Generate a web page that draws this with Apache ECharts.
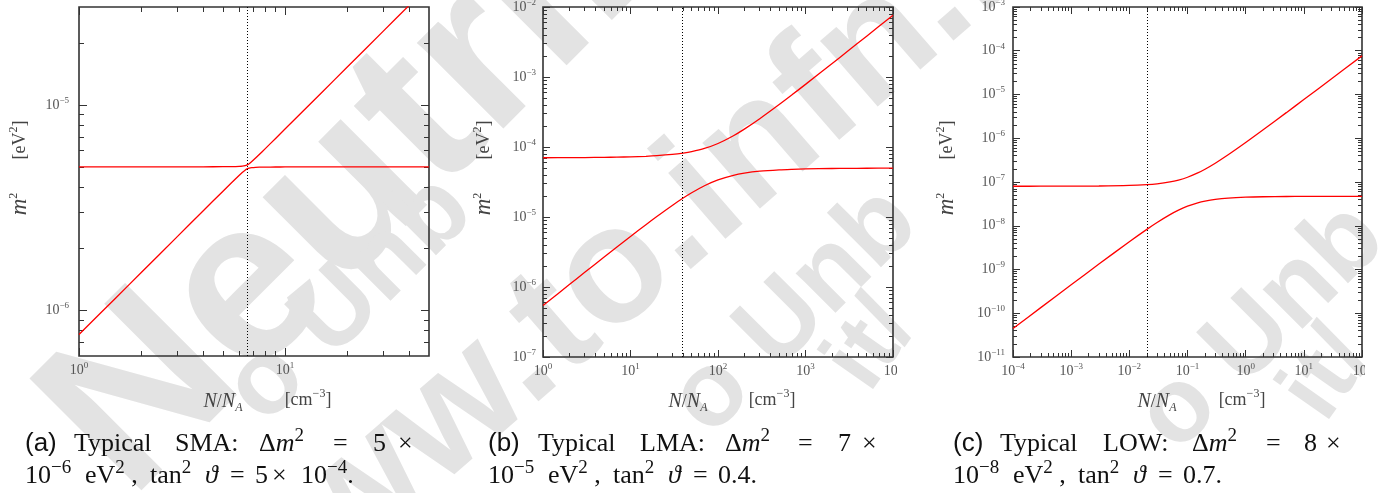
<!DOCTYPE html>
<html>
<head>
<meta charset="utf-8">
<script src="https://cdn.jsdelivr.net/npm/echarts@6.0.0/dist/echarts.min.js"></script>
<style>
  html, body { margin: 0; padding: 0; background: #fff; }
  #chart { width: 1387px; height: 493px; }
</style>
</head>
<body>
<div id="chart"></div>
<script>
// ---------- (a) Typical SMA: Δm² = 5e-6 eV², tan²ϑ = 5e-4 ----------
const smaDensity = [1, 1.5, 2, 3, 4, 5, 5.5, 6, 6.2, 6.4, 6.55, 6.7, 6.9, 7.2, 7.5, 8, 9, 10, 15, 20, 30, 40, 50];
const smaLower = [7.63e-7, 1.144e-6, 1.525e-6, 2.287e-6, 3.048e-6, 3.807e-6, 4.184e-6, 4.552e-6, 4.692e-6, 4.817e-6, 4.887e-6, 4.930e-6, 4.957e-6, 4.974e-6, 4.981e-6, 4.986e-6, 4.991e-6, 4.993e-6, 4.996e-6, 4.996e-6, 4.997e-6, 4.997e-6, 4.997e-6];
const smaUpper = [5.000e-6, 5.001e-6, 5.001e-6, 5.002e-6, 5.004e-6, 5.008e-6, 5.013e-6, 5.026e-6, 5.038e-6, 5.067e-6, 5.111e-6, 5.182e-6, 5.307e-6, 5.520e-6, 5.742e-6, 6.118e-6, 6.876e-6, 7.637e-6, 1.145e-5, 1.526e-5, 2.289e-5, 3.052e-5, 3.815e-5];
const smaResonance = 6.55;
const smaXRange = [1, 50];
const smaYRange = [6e-7, 3e-5];
const smaXLabels = [1, 10];
const smaYLabels = [1e-6, 1e-5];

// ---------- (b) Typical LMA: Δm² = 7e-5 eV², tan²ϑ = 0.4 ----------
const lmaDensity = [1, 2, 3, 5, 7, 10, 15, 20, 30, 40, 50, 70, 100, 150, 200, 300, 500, 700, 1000, 2000, 3000, 5000, 10000];
const lmaLower = [5.43e-7, 1.083e-6, 1.620e-6, 2.682e-6, 3.729e-6, 5.272e-6, 7.767e-6, 1.016e-5, 1.462e-5, 1.864e-5, 2.219e-5, 2.799e-5, 3.396e-5, 3.947e-5, 4.232e-5, 4.509e-5, 4.718e-5, 4.802e-5, 4.864e-5, 4.933e-5, 4.956e-5, 4.974e-5, 4.987e-5];
const lmaUpper = [7.022e-5, 7.044e-5, 7.067e-5, 7.113e-5, 7.161e-5, 7.236e-5, 7.368e-5, 7.510e-5, 7.827e-5, 8.188e-5, 8.596e-5, 9.542e-5, 1.123e-4, 1.450e-4, 1.803e-4, 2.538e-4, 4.043e-4, 5.561e-4, 7.844e-4, 1.547e-3, 2.309e-3, 3.835e-3, 7.650e-3];
const lmaResonance = 39.3;
const lmaXRange = [1, 1e4];
const lmaYRange = [1e-7, 1e-2];
const lmaXLabels = [1, 10, 100, 1000, 10000];
const lmaYLabels = [1e-7, 1e-6, 1e-5, 1e-4, 1e-3, 1e-2];

// ---------- (c) Typical LOW: Δm² = 8e-8 eV², tan²ϑ = 0.7 ----------
const lowDensity = [1e-4, 3e-4, 1e-3, 3e-3, 0.01, 0.02, 0.03, 0.05, 0.07, 0.1, 0.15, 0.2, 0.3, 0.5, 1, 2, 5, 10, 30, 100];
const lowLower = [4.49e-11, 1.345e-10, 4.471e-10, 1.331e-9, 4.309e-9, 8.254e-9, 1.183e-8, 1.791e-8, 2.270e-8, 2.798e-8, 3.345e-8, 3.665e-8, 4.007e-8, 4.289e-8, 4.499e-8, 4.603e-8, 4.665e-8, 4.686e-8, 4.699e-8, 4.704e-8];
const lowUpper = [8.003e-8, 8.009e-8, 8.032e-8, 8.096e-8, 8.332e-8, 8.701e-8, 9.106e-8, 1.002e-7, 1.107e-7, 1.283e-7, 1.610e-7, 1.960e-7, 2.688e-7, 4.186e-7, 7.980e-7, 1.560e-6, 3.848e-6, 7.663e-6, 2.292e-5, 7.633e-5];
const lowResonance = 0.0185;
const lowXRange = [1e-4, 100];
const lowYRange = [1e-11, 1e-3];
const lowXLabels = [1e-4, 1e-3, 1e-2, 1e-1, 1, 10, 100];
const lowYLabels = [1e-11, 1e-10, 1e-9, 1e-8, 1e-7, 1e-6, 1e-5, 1e-4, 1e-3];

// caption values
const captionTags = ['(a)', '(b)', '(c)'];
const captionNames = ['SMA:', 'LMA:', 'LOW:'];
const captionMantissas = ['5', '7', '8'];
const captionExponents = ['\u22126', '\u22125', '\u22128'];
const captionTan2 = [null, '0.4', '0.7'];

const SERIF = "'Liberation Serif', 'DejaVu Serif', serif";
const SANS = "'Liberation Sans', 'DejaVu Sans', sans-serif";
const AXIS_GRAY = '#555';
const NAME_GRAY = '#444';
const FRAME = '#333';

const panels = [
  { x: smaDensity, lower: smaLower, upper: smaUpper, res: smaResonance, xr: smaXRange, yr: smaYRange, xl: smaXLabels, yl: smaYLabels },
  { x: lmaDensity, lower: lmaLower, upper: lmaUpper, res: lmaResonance, xr: lmaXRange, yr: lmaYRange, xl: lmaXLabels, yl: lmaYLabels },
  { x: lowDensity, lower: lowLower, upper: lowUpper, res: lowResonance, xr: lowXRange, yr: lowYRange, xl: lowXLabels, yl: lowYLabels }
];

// frame boxes and tick geometry of the three panels
const boxes = [
  { left: 79, top: 7, width: 350, height: 349, majorLen: 8, minorLen: 5, yMargin: 10 },
  { left: 543, top: 7, width: 350, height: 350, majorLen: 7, minorLen: 4, yMargin: 7 },
  { left: 1013, top: 7, width: 349, height: 350, majorLen: 7, minorLen: 4, yMargin: 8 }
];

// 2..9 times each power of ten inside the range
function minorTicks(range) {
  const out = [];
  const e0 = Math.floor(Math.log10(range[0]));
  const e1 = Math.ceil(Math.log10(range[1]));
  for (let e = e0; e <= e1; e++) {
    for (let k = 2; k <= 9; k++) {
      const v = Number((k * Math.pow(10, e)).toPrecision(10));
      if (v > range[0] && v < range[1]) out.push(v);
    }
  }
  return out;
}

function powerLabel(v) {
  const e = Math.round(Math.log10(v));
  return '{b|10}{s|' + (e < 0 ? '\u2212' + (-e) : String(e)) + '}';
}

const tickRich = {
  b: { fontFamily: SERIF, fontSize: 14, color: AXIS_GRAY },
  s: { fontFamily: SERIF, fontSize: 9, color: AXIS_GRAY, padding: [0, 0, 9, 0] }
};

function makeAxes(dim, gi, range, majors, box) {
  const isX = dim === 'x';
  const sides = isX ? ['bottom', 'top'] : ['left', 'right'];
  const minors = minorTicks(range);
  const out = [];
  sides.forEach((pos, si) => {
    [[majors, box.majorLen], [minors, box.minorLen]].forEach((pair, ti) => {
      const withLabels = si === 0 && ti === 0;
      out.push({
        type: 'log', logBase: 10, gridIndex: gi, position: pos,
        min: range[0], max: range[1],
        axisLine: { show: false },
        splitLine: { show: false },
        minorTick: { show: false },
        axisTick: { show: true, inside: true, length: pair[1], customValues: pair[0], lineStyle: { color: FRAME, width: 1 } },
        axisLabel: withLabels
          ? { show: true, customValues: majors, formatter: powerLabel, rich: tickRich, margin: isX ? 5 : box.yMargin }
          : { show: false }
      });
    });
  });
  return out;
}

const grids = [], xAxes = [], yAxes = [], series = [];
panels.forEach((p, i) => {
  const b = boxes[i];
  grids.push({
    left: b.left, top: b.top, width: b.width, height: b.height,
    show: true, borderColor: FRAME, borderWidth: 1.6, backgroundColor: 'transparent',
    containLabel: false, outerBoundsMode: 'none'
  });
  xAxes.push(...makeAxes('x', i, p.xr, p.xl, b));
  yAxes.push(...makeAxes('y', i, p.yr, p.yl, b));
  const curve = (ys) => p.x.map((v, k) => [v, ys[k]]);
  const common = {
    type: 'line', xAxisIndex: 4 * i, yAxisIndex: 4 * i,
    showSymbol: false, smooth: 0.3, clip: true, z: 3,
    lineStyle: { color: '#ff0000', width: 1.3 }
  };
  series.push(Object.assign({}, common, {
    name: 'lower' + i, data: curve(p.lower),
    markLine: {
      silent: true, symbol: ['none', 'none'], label: { show: false },
      lineStyle: { color: '#000', type: [1, 2], width: 1 },
      data: [{ xAxis: p.res }]
    }
  }));
  series.push(Object.assign({}, common, { name: 'upper' + i, data: curve(p.upper) }));
});

// ---------- text helpers ----------
const capRich = {
  r: { fontFamily: SERIF, fontSize: 26, fill: '#111' },
  i: { fontFamily: SERIF, fontSize: 26, fontStyle: 'italic', fill: '#111' },
  f: { fontFamily: SANS, fontSize: 26, fill: '#111' },
  s: { fontFamily: SERIF, fontSize: 19, fill: '#111', padding: [0, 0, 15, 0] }
};
const nameRich = {
  r: { fontFamily: SERIF, fontSize: 18, fill: NAME_GRAY },
  i: { fontFamily: SERIF, fontSize: 20, fontStyle: 'italic', fill: NAME_GRAY },
  m: { fontFamily: SERIF, fontSize: 23, fontStyle: 'italic', fill: NAME_GRAY },
  s: { fontFamily: SERIF, fontSize: 12, fill: NAME_GRAY, padding: [0, 0, 12, 0] },
  d: { fontFamily: SERIF, fontSize: 12, fontStyle: 'italic', fill: NAME_GRAY, padding: [11, 0, 0, 0] }
};

function txt(x, y, text, rich, extra) {
  return Object.assign({
    type: 'text', x: x, y: y, silent: true,
    style: { text: text, rich: rich, align: 'left', verticalAlign: 'middle', fill: '#111' }
  }, extra || {});
}
function ctxt(x, y, text, rich, extra) {
  const el = txt(x, y, text, rich, extra);
  el.style.align = 'center';
  return el;
}

const graphics = [];

// axis titles
const nameSpots = [
  { yx: 20, nx: 223, cx: 308 },
  { yx: 484, nx: 688, cx: 772 },
  { yx: 947, nx: 1157, cx: 1242 }
];
nameSpots.forEach(s => {
  graphics.push(ctxt(s.yx, 204, '{m|m}{s|2}', nameRich, { rotation: Math.PI / 2 }));
  graphics.push(ctxt(s.yx, 140, '{r|[eV}{s|2}{r|]}', nameRich, { rotation: Math.PI / 2 }));
  graphics.push(ctxt(s.nx, 402, '{i|N}{r|/}{i|N}{d|A}', nameRich));
  graphics.push(ctxt(s.cx, 400, '{r|[cm}{s|\u22123}{r|]}', nameRich));
});

// sub-figure captions: first line spread over the column, second line in word groups
const captionStart = [25, 488, 953];
const line1Offsets = [
  [0, 49, 150, 234, 308, 348, 373],
  [0, 50, 152, 237, 310, 350, 374],
  [0, 47, 150, 239, 313, 351, 373]
];
const Y1 = 444, Y2 = 476;
captionTags.forEach((tag, i) => {
  const s = captionStart[i];
  const parts = ['{f|' + tag + '}', '{r|Typical}', '{r|' + captionNames[i] + '}', '{r|\u0394}{i|m}{s|2}',
                 '{r|=}', '{r|' + captionMantissas[i] + '}', '{r|\u00d7}'];
  parts.forEach((t, k) => graphics.push(txt(s + line1Offsets[i][k], Y1, t, capRich)));
  const line2 = [
    [0, '{r|10}{s|' + captionExponents[i] + '}'],
    [60, '{r|eV}{s|2}{r| ,}'],
    [125, '{r|tan}{s|2}'],
    [180, '{i|\u03d1}'],
    [205, '{r|=}']
  ];
  if (captionTan2[i] === null) {
    line2.push([230, '{r|5}'], [247, '{r|\u00d7}'], [276, '{r|10}{s|\u22124}{r|.}']);
  } else {
    line2.push([230, '{r|' + captionTan2[i] + '.}']);
  }
  line2.forEach(t => graphics.push(txt(s + t[0], Y2, t[1], capRich)));
});

// the right-most tick labels of (b) and (c) are cut at the figure edge
graphics.push({ type: 'rect', z: 10, silent: true, shape: { x: 897, y: 358, width: 20, height: 32 }, style: { fill: '#fff' } });
graphics.push({ type: 'rect', z: 10, silent: true, shape: { x: 1365, y: 358, width: 22, height: 32 }, style: { fill: '#fff' } });

// faint background watermark
const WM = { fill: '#e3e3e3', fontFamily: SANS, fontWeight: 'bold', align: 'center', verticalAlign: 'middle' };
const deg = Math.PI / 180;
const watermark = [
  { t: 'Neutrino', x: 420, y: 122, size: 230, rot: 45 },
  { t: 'www.to.infn.it', x: 620, y: 270, size: 165, rot: 41 },
  { t: 'o Unb', x: 350, y: 300, size: 106, rot: 45 },
  { t: 'o Unb', x: 795, y: 312, size: 106, rot: 45 },
  { t: 'o Unb', x: 1262, y: 328, size: 106, rot: 45 },
  { t: 'it/', x: 872, y: 345, size: 95, rot: 55 },
  { t: 'it/', x: 1328, y: 375, size: 95, rot: 55 }
];
watermark.forEach(w => graphics.push({
  type: 'text', x: w.x, y: w.y, rotation: w.rot * deg, z: -5, silent: true,
  style: Object.assign({ text: w.t, fontSize: w.size }, WM)
}));

const chart = echarts.init(document.getElementById('chart'), null, { renderer: 'canvas', width: 1387, height: 493 });
chart.setOption({
  animation: false,
  backgroundColor: '#fff',
  grid: grids,
  xAxis: xAxes,
  yAxis: yAxes,
  series: series,
  graphic: { elements: graphics }
});
</script>
</body>
</html>
